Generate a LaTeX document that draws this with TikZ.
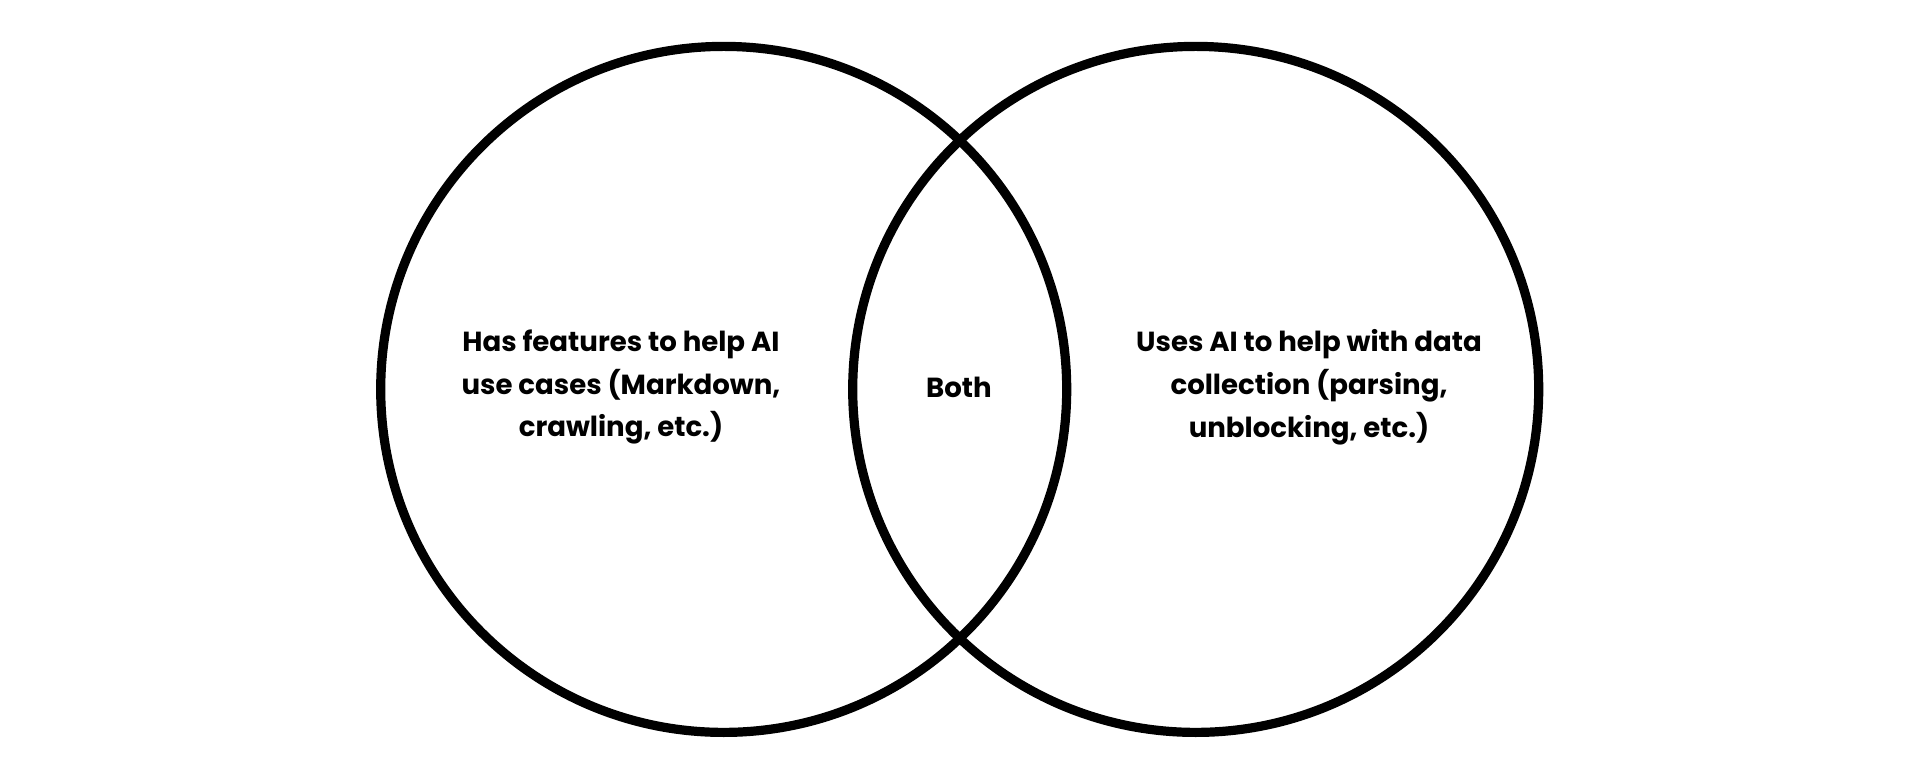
\documentclass[tikz,border=0pt]{standalone}
\usepackage{fontspec}
\setmainfont{Poppins}
\begin{document}
\begin{tikzpicture}[x=0.5pt,y=-0.5pt,
  setc/.style={circle,draw=black,line width=4.6pt,minimum size=686*0.5pt,inner sep=0pt},
  lbl/.style={align=center,font=\fontsize{13.8}{21.4}\selectfont\bfseries,text=black}]
\useasboundingbox[fill=white] (0,0) rectangle (1920,774);
\node[setc] (A) at (723.7,389.4) {};
\node[setc] (B) at (1195.7,389.4) {};
\node[lbl] (ta) at (621,387) {Has features to help AI\\use cases (Markdown,\\crawling, etc.)};
\node[lbl] (tb) at (1309,387) {Uses AI to help with data\\collection (parsing,\\unblocking, etc.)};
\node[lbl] (tc) at (959,387) {Both};
\end{tikzpicture}
\end{document}
